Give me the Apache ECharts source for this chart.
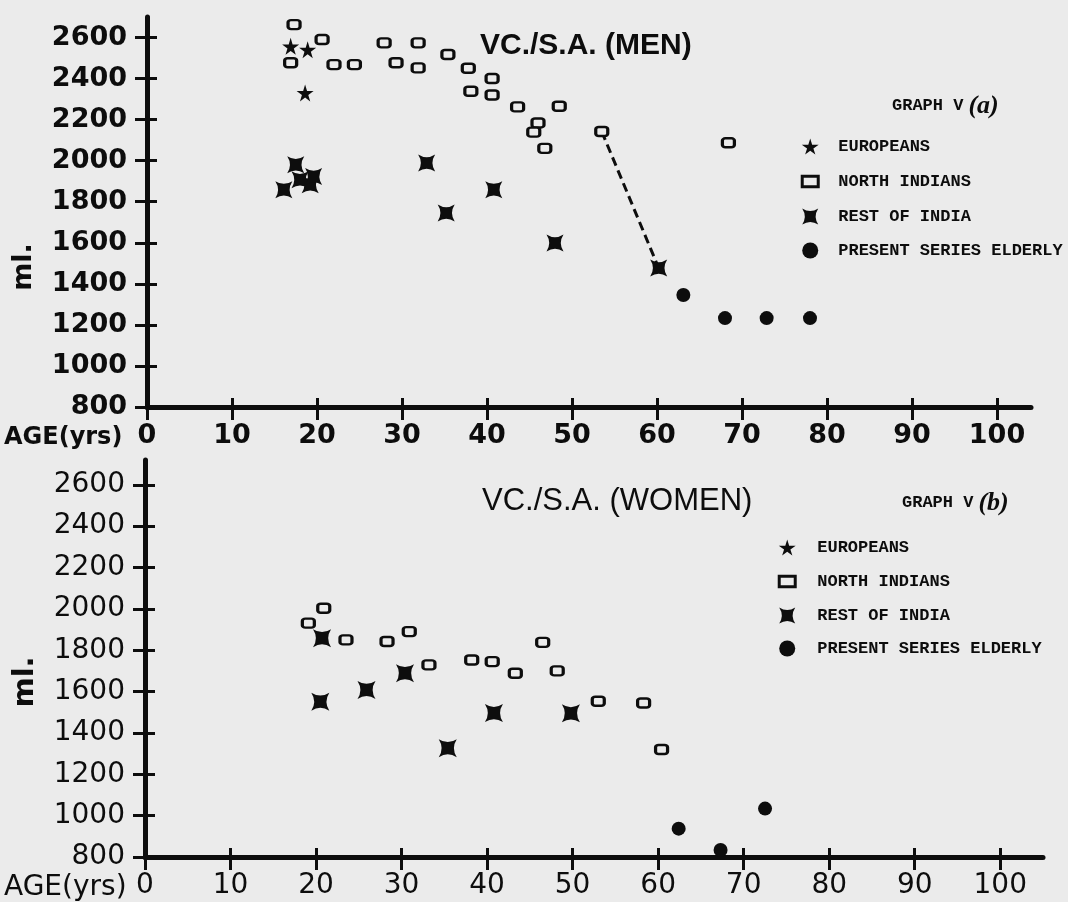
<!DOCTYPE html>
<html><head><meta charset="utf-8">
<script src="https://cdn.jsdelivr.net/npm/echarts@6/dist/echarts.min.js"></script>
<style>html,body{margin:0;padding:0;background:#ebebeb}#c{width:1068px;height:902px}</style>
</head><body><div id="c"></div>
<script>
// ---- tick labels ----
const xTicks = [0, 10, 20, 30, 40, 50, 60, 70, 80, 90, 100];
const yTicks = [800, 1000, 1200, 1400, 1600, 1800, 2000, 2200, 2400, 2600];

// ---- series names ----
const seriesNames = ['EUROPEANS', 'NORTH INDIANS', 'REST OF INDIA', 'PRESENT SERIES ELDERLY'];

// ---- Graph V (a): VC./S.A. (MEN)  [age (yrs), ml] ----
const menEuropeans = [[16.9, 2557], [18.9, 2541], [18.6, 2330]];
const menNorthIndians = [
  [17.3, 2663], [20.6, 2590], [16.9, 2477], [22.0, 2468], [24.4, 2468],
  [27.9, 2574], [29.3, 2477], [31.9, 2574], [31.9, 2452], [35.4, 2517],
  [37.8, 2450], [38.1, 2338], [40.6, 2400], [40.6, 2320], [43.6, 2262],
  [48.5, 2265], [46.0, 2184], [45.5, 2139], [46.8, 2060], [53.5, 2142],
  [68.4, 2087]
];
const menRestOfIndia = [
  [16.1, 1859], [17.5, 1980], [18.0, 1907], [19.2, 1883], [19.6, 1923],
  [32.9, 1989], [35.2, 1745], [40.8, 1859], [48.0, 1599], [60.2, 1477]
];
const menElderly = [[63.1, 1346], [68.0, 1233], [72.9, 1233], [78.0, 1233]];
const menTrend = [[53.5, 2142], [60.2, 1477]];

// ---- Graph V (b): VC./S.A. (WOMEN) ----
const womenNorthIndians = [
  [19.1, 1931], [20.9, 2003], [23.5, 1850], [28.3, 1842], [30.9, 1890],
  [33.2, 1729], [38.2, 1753], [40.6, 1745], [43.3, 1689], [46.5, 1838],
  [48.2, 1700], [53.0, 1553], [58.3, 1545], [60.4, 1320]
];
const womenRestOfIndia = [
  [20.7, 1858], [20.5, 1551], [25.9, 1608], [30.4, 1689], [35.4, 1326],
  [40.8, 1496], [49.8, 1495]
];
const womenElderly = [[62.4, 937], [67.3, 834], [72.5, 1034]];

// ---- styling ----
const INK = '#0d0d0d';
const BG = '#ebebeb';
const STAR = 'path://M50,0 L61,35 L98,35 L68,57 L79,91 L50,70 L21,91 L32,57 L2,35 L39,35 Z';
const XSHAPE = 'path://M0,0 Q50,32 100,0 Q68,50 100,100 Q50,68 0,100 Q32,50 0,0 Z';
// hollow box icon with transparent margins (zero-length segments set the icon box)
const BOX_ICON = 'path://M3.5,2.5 L18.5,2.5 L18.5,12.5 L3.5,12.5 Z M0,0 L0,0 M22,15 L22,15';

function axesFor(gridIndex, xMax, yMax, weight, size) {
  const xMain = {
    type: 'value', gridIndex, min: 0, max: xMax, interval: 10, position: 'bottom',
    axisLine: { show: true, onZero: false, lineStyle: { color: INK, width: 5 } },
    axisTick: { show: true, customValues: xTicks, length: 13, lineStyle: { color: INK, width: 3 } },
    axisLabel: { customValues: xTicks, margin: 15, fontSize: size, fontWeight: weight, color: INK,
      fontFamily: 'DejaVu Sans', formatter: v => String(v) },
    splitLine: { show: false }
  };
  const xInner = {
    type: 'value', gridIndex, min: 0, max: xMax, interval: 10, position: 'bottom',
    axisLine: { show: false },
    axisTick: { show: true, inside: true, customValues: xTicks, length: 9, lineStyle: { color: INK, width: 3 } },
    axisLabel: { show: false }, splitLine: { show: false }
  };
  const yMain = {
    type: 'value', gridIndex, min: 800, max: yMax, interval: 200, position: 'left',
    axisLine: { show: true, onZero: false, lineStyle: { color: INK, width: 5 } },
    axisTick: { show: true, customValues: yTicks, length: 12, lineStyle: { color: INK, width: 3 } },
    axisLabel: { customValues: yTicks, margin: 20, fontSize: size, fontWeight: weight, color: INK,
      fontFamily: 'DejaVu Sans', formatter: v => String(v) },
    splitLine: { show: false }
  };
  const yInner = {
    type: 'value', gridIndex, min: 800, max: yMax, interval: 200, position: 'left',
    axisLine: { show: false },
    axisTick: { show: true, inside: true, customValues: yTicks, length: 10, lineStyle: { color: INK, width: 3 } },
    axisLabel: { show: false }, splitLine: { show: false }
  };
  return { x: [xMain, xInner], y: [yMain, yInner] };
}
const topAxes = axesFor(0, 104, 2700, 'bold', 27);
const botAxes = axesFor(1, 105, 2720, 'normal', 28);

function sc(name, data, xi, symbol, size, hollow) {
  return {
    type: 'scatter', name, data, xAxisIndex: xi, yAxisIndex: xi,
    symbol, symbolSize: size, z: 3,
    itemStyle: hollow ? { color: BG, borderColor: INK, borderWidth: 2.8, opacity: 1 }
                      : { color: INK, opacity: 1 },
    emphasis: { disabled: true }
  };
}

const legendTextStyle = { fontFamily: 'Liberation Mono', fontWeight: 'bold', fontSize: 17, color: INK };
function legendData() {
  return [
    { name: seriesNames[0], icon: STAR, itemStyle: { color: INK, opacity: 1 } },
    { name: seriesNames[1], icon: BOX_ICON, itemStyle: { color: BG, borderColor: INK, borderWidth: 3, opacity: 1 } },
    { name: seriesNames[2], icon: XSHAPE, itemStyle: { color: INK, opacity: 1 } },
    { name: seriesNames[3], icon: 'circle', itemStyle: { color: INK, opacity: 1 } }
  ];
}

const graphRich = {
  g: { fontFamily: 'Liberation Mono', fontWeight: 'bold', fontSize: 17, color: INK },
  p: { fontFamily: 'Liberation Serif', fontStyle: 'italic', fontWeight: 'bold', fontSize: 26, color: INK }
};
const titleFont = { fontFamily: 'Liberation Sans', color: INK };
const option = {
  backgroundColor: BG,
  animation: false,
  title: [
    { text: 'VC./S.A. (MEN)', left: 480, top: 31, padding: 0,
      textStyle: Object.assign({ fontWeight: 'bold', fontSize: 30 }, titleFont) },
    { text: 'VC./S.A. (WOMEN)', left: 482, top: 486, padding: 0,
      textStyle: Object.assign({ fontWeight: 'normal', fontSize: 31 }, titleFont) },
    { text: '{g|GRAPH V} {p|(a)}', left: 892, top: 93, padding: 0, textStyle: { rich: graphRich } },
    { text: '{g|GRAPH V} {p|(b)}', left: 902, top: 490, padding: 0, textStyle: { rich: graphRich } }
  ],
  legend: [
    { orient: 'vertical', left: 797, top: 138, itemWidth: 46, itemHeight: 16, itemGap: 17,
      selectedMode: false, padding: 0, textStyle: legendTextStyle, data: legendData() },
    { orient: 'vertical', left: 774, top: 539, itemWidth: 50, itemHeight: 16, itemGap: 16,
      selectedMode: false, padding: 0, textStyle: legendTextStyle, data: legendData() }
  ],
  grid: [
    { left: 147, top: 17, width: 884, height: 390 },
    { left: 145, top: 460, width: 898, height: 397 }
  ],
  xAxis: [...topAxes.x, ...botAxes.x],
  yAxis: [...topAxes.y, ...botAxes.y],
  graphic: [
    { type: 'text', x: 24, y: 267, rotation: Math.PI / 2,
      style: { text: 'ml.', font: 'bold 27px "DejaVu Sans"', fill: INK, align: 'center', verticalAlign: 'middle' } },
    { type: 'text', x: 25, y: 682, rotation: Math.PI / 2,
      style: { text: 'ml.', font: 'bold 29px "DejaVu Sans"', fill: INK, align: 'center', verticalAlign: 'middle' } },
    { type: 'text', x: 4, y: 438,
      style: { text: 'AGE(yrs)', font: 'bold 24px "DejaVu Sans"', fill: INK, align: 'left', verticalAlign: 'middle' } },
    { type: 'text', x: 4, y: 888,
      style: { text: 'AGE(yrs)', font: '28px "DejaVu Sans"', fill: INK, align: 'left', verticalAlign: 'middle' } }
  ],
  series: [
    { type: 'line', name: 'trend', data: menTrend, xAxisIndex: 0, yAxisIndex: 0, symbol: 'none', z: 2,
      lineStyle: { color: INK, width: 3, type: [9, 5] }, silent: true },
    sc(seriesNames[0], menEuropeans, 0, STAR, 17, false),
    sc(seriesNames[1], menNorthIndians, 0, 'roundRect', [12, 9], true),
    sc(seriesNames[2], menRestOfIndia, 0, XSHAPE, 17, false),
    sc(seriesNames[3], menElderly, 0, 'circle', 14, false),
    sc(seriesNames[1], womenNorthIndians, 2, 'roundRect', [12, 9], true),
    sc(seriesNames[2], womenRestOfIndia, 2, XSHAPE, 18, false),
    sc(seriesNames[3], womenElderly, 2, 'circle', 14, false)
  ]
};
const chart = echarts.init(document.getElementById('c'), null, { renderer: 'canvas' });
chart.setOption(option);
</script>
</body></html>
